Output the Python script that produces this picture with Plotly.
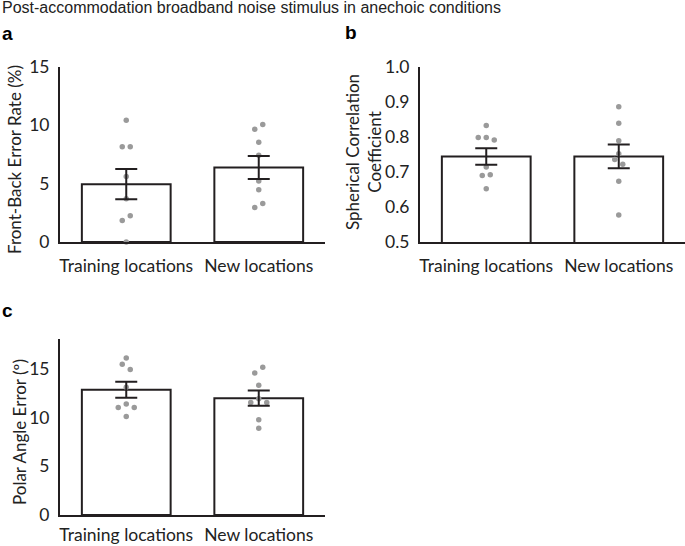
import plotly.graph_objects as go

# ---------------- data ----------------
title_text = "Post-accommodation broadband noise stimulus in anechoic conditions"
categories = ["Training locations", "New locations"]

a_label = "Front-Back Error Rate (%)"
a_train = [10.42, 8.14, 8.14, 5.61, 3.70, 2.25, 1.85, 0.0]
a_new = [10.05, 9.65, 8.54, 7.43, 5.21, 4.47, 3.30, 2.96]
a_means = [4.95, 6.38]
a_sems = [1.30, 0.98]
a_ticks = [0, 5, 10, 15]

b_label = "Spherical Correlation<br>Coefficient"
b_train = [0.832, 0.798, 0.791, 0.798, 0.714, 0.692, 0.690, 0.652]
b_new = [0.886, 0.839, 0.789, 0.752, 0.735, 0.722, 0.673, 0.577]
b_means = [0.744, 0.744]
b_sems = [0.0235, 0.034]
b_ticks = [0.5, 0.6, 0.7, 0.8, 0.9, 1.0]

c_label = "Polar Angle Error (º)"
c_train = [16.09, 15.44, 14.90, 13.09, 11.36, 11.02, 11.02, 10.10]
c_new = [15.13, 14.56, 13.30, 11.91, 11.53, 11.53, 9.77, 8.88]
c_means = [12.83, 11.97]
c_sems = [0.815, 0.78]
c_ticks = [0, 5, 10, 15]

# ---------------- layout constants ----------------
W, H = 685, 546
FONT = "Lato"
BLACK = "#231f20"
DOT = "#9a9a9a"
TICK_SIZE = 17.5
LABEL_SIZE = 17

panels = [
    dict(train=a_train, new=a_new, means=a_means, sems=a_sems, ticks=a_ticks,
         fmt="d", yr=[0, 15], x0=60, x1=325, yt=66.7, yb=242, xstand=7,
         label=a_label, lx=14, ly=160, letter="a", letx=0, lety=33),
    dict(train=b_train, new=b_new, means=b_means, sems=b_sems, ticks=b_ticks,
         fmt=".1f", yr=[0.5, 1.0], x0=420, x1=685, yt=66.7, yb=242, xstand=7,
         label=b_label, lx=363, ly=152, letter="b", letx=343, lety=32),
    dict(train=c_train, new=c_new, means=c_means, sems=c_sems, ticks=c_ticks,
         fmt="d", yr=[0, 18], x0=60, x1=325, yt=339.3, yb=515, xstand=3,
         label=c_label, lx=19, ly=432, letter="c", letx=0, lety=310),
]


def swarm(values, px_per_unit, step=4.0, diam=7.0):
    """Simple beeswarm: returns pixel offsets for each value."""
    order = sorted(range(len(values)), key=lambda i: -values[i])
    placed = []
    cands = [0]
    for k in range(1, 8):
        cands += [-k * step, k * step]
    for i in order:
        y = values[i] * px_per_unit
        for c in cands:
            if all(((c - o) ** 2 + (y - yy) ** 2) ** 0.5 >= diam for _, o, yy in placed):
                placed.append((i, c, y))
                break
    placed.sort(key=lambda t: -t[2])
    groups, cur = [], [placed[0]]
    for p in placed[1:]:
        if cur[-1][2] - p[2] < diam:
            cur.append(p)
        else:
            groups.append(cur)
            cur = [p]
    groups.append(cur)
    offs = [0.0] * len(values)
    for g in groups:
        m = sum(o for _, o, _ in g) / len(g)
        for i, o, _ in g:
            offs[i] = o - m
    return offs


fig = go.Figure()
annotations = []

for k, p in enumerate(panels):
    sfx = "" if k == 0 else str(k + 1)
    xa, ya = "x" + sfx, "y" + sfx
    px_per_y = (p["yb"] - p["yt"]) / (p["yr"][1] - p["yr"][0])
    px_per_x = (p["x1"] - p["x0"]) / 2.0

    fig.add_trace(go.Bar(
        x=[0, 1], y=p["means"], width=0.67,
        marker=dict(color="white", line=dict(color=BLACK, width=2)),
        xaxis=xa, yaxis=ya, showlegend=False, hoverinfo="skip",
    ))
    for ci, vals in enumerate([p["train"], p["new"]]):
        offs = swarm(vals, px_per_y)
        fig.add_trace(go.Scatter(
            x=[ci + o / px_per_x for o in offs], y=vals, mode="markers",
            marker=dict(color=DOT, size=5.5, line=dict(width=0)),
            xaxis=xa, yaxis=ya, showlegend=False, hoverinfo="skip", cliponaxis=False,
        ))
    fig.add_trace(go.Scatter(
        x=[0, 1], y=p["means"], mode="markers",
        marker=dict(size=0.1, color="rgba(0,0,0,0)"),
        error_y=dict(type="data", array=p["sems"], color=BLACK, thickness=2, width=11),
        xaxis=xa, yaxis=ya, showlegend=False, hoverinfo="skip",
    ))

    xdom = [p["x0"] / W, p["x1"] / W]
    ydom = [1 - p["yb"] / H, 1 - p["yt"] / H]
    fig.update_layout({
        "xaxis" + sfx: dict(
            domain=xdom, range=[-0.5, 1.5], tickmode="array", tickvals=[0, 1],
            ticktext=categories, showline=True, linecolor=BLACK, linewidth=2,
            ticks="", showgrid=False, zeroline=False, anchor=ya, automargin=False,
            tickfont=dict(family=FONT, size=TICK_SIZE, color="#222"),
            ticklabelstandoff=p["xstand"], fixedrange=True,
        ),
        "yaxis" + sfx: dict(
            domain=ydom, range=p["yr"], tickmode="array", tickvals=p["ticks"],
            tickformat=p["fmt"], showline=True, linecolor=BLACK, linewidth=2,
            ticks="", showgrid=False, zeroline=False, anchor=xa, automargin=False,
            tickfont=dict(family=FONT, size=TICK_SIZE, color="#222"),
            ticklabelstandoff=5, fixedrange=True,
        ),
    })
    annotations.append(dict(
        text=p["label"], textangle=-90, x=p["lx"] / W, y=1 - p["ly"] / H,
        xref="paper", yref="paper", xanchor="center", yanchor="middle",
        showarrow=False, font=dict(family=FONT, size=LABEL_SIZE, color="#222"),
    ))
    annotations.append(dict(
        text="<b>" + p["letter"] + "</b>", x=p["letx"] / W, y=1 - p["lety"] / H,
        xref="paper", yref="paper", xanchor="left", yanchor="middle",
        showarrow=False, font=dict(family="Liberation Sans", size=19, color="black"),
    ))

annotations.append(dict(
    text=title_text, x=0, y=1 - 8 / H, xref="paper", yref="paper",
    xanchor="left", yanchor="middle", showarrow=False,
    font=dict(family="Liberation Sans", size=16, color="#222"),
))

fig.update_layout(
    width=W, height=H, margin=dict(l=0, r=0, t=0, b=0, autoexpand=False),
    paper_bgcolor="white", plot_bgcolor="white",
    annotations=annotations, bargap=0, showlegend=False,
)

fig.write_html(
    "out.html",
    config={"displayModeBar": False, "staticPlot": True},
    post_script="document.body.style.margin='0px';document.body.style.overflow='hidden';",
)
